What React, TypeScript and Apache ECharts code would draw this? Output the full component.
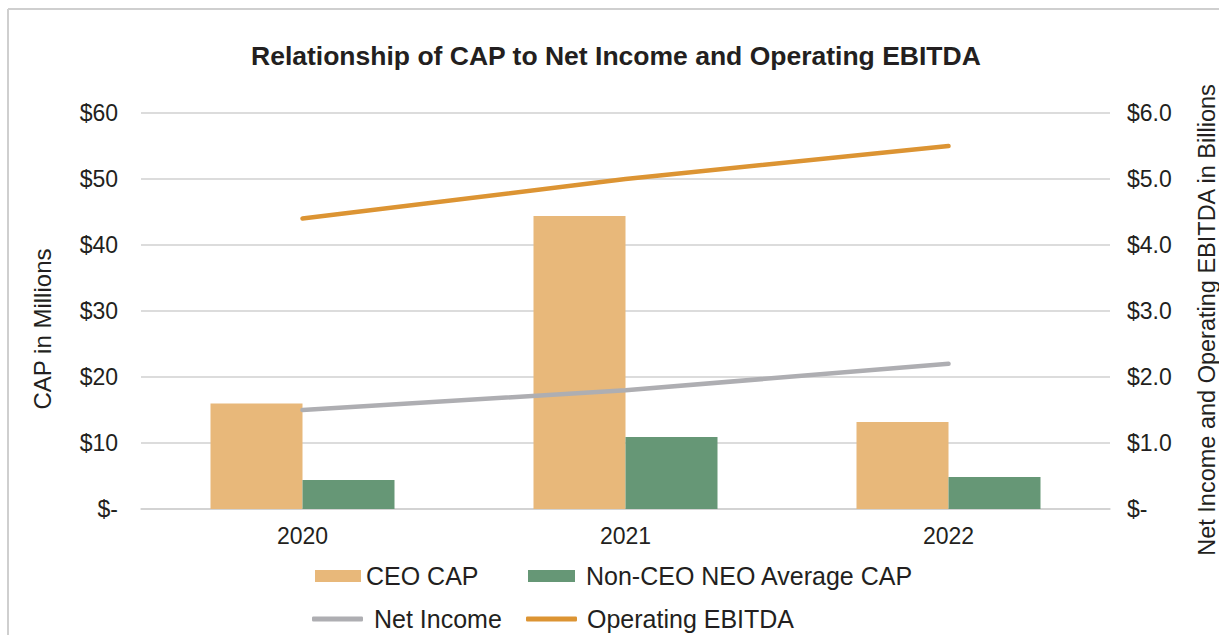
import React, { useEffect, useRef } from "react";
import * as echarts from "echarts";

const years = ["2020", "2021", "2022"];
const ceoCap = [16.0, 44.4, 13.2];
const nonCeoCap = [4.4, 10.9, 4.85];
const netIncome = [1.5, 1.8, 2.2];
const operatingEbitda = [4.4, 5.0, 5.5];

const FONT = "'Liberation Sans', Arial, Helvetica, sans-serif";
const TEXT = "#231f20";
const GRID = "#d0d0d0";
const C_CEO = "#e8b87a";
const C_NEO = "#669776";
const C_NI = "#aeaeb2";
const C_EB = "#dc9433";

export default function App() {
  const ref = useRef<HTMLDivElement>(null);
  useEffect(() => {
    if (!ref.current) return;
    const chart = echarts.init(ref.current, undefined, { renderer: "svg" });
    const legendText = { fontFamily: FONT, fontSize: 25, color: TEXT, lineHeight: 26 };
    chart.setOption({
      animation: false,
      backgroundColor: "#ffffff",
      title: {
        text: "Relationship of CAP to Net Income and Operating EBITDA",
        left: 251,
        top: 42,
        padding: 0,
        textStyle: { fontFamily: FONT, fontSize: 26.5, fontWeight: "bold", color: TEXT },
      },
      grid: { left: 141, right: 109, top: 113, bottom: 126, containLabel: false, outerBoundsMode: "none" },
      legend: [
        {
          data: [{ name: "CEO CAP", icon: "rect" }],
          left: 315, top: 563, padding: 0, itemWidth: 46, itemHeight: 12,
          textStyle: legendText, selectedMode: false,
        },
        {
          data: [{ name: "Non-CEO NEO Average CAP", icon: "rect" }],
          left: 528, top: 563, padding: 0, itemWidth: 47, itemHeight: 12,
          textStyle: { ...legendText, padding: [0, 0, 0, 6] }, selectedMode: false,
        },
        {
          data: [{ name: "Net Income", icon: "roundRect", itemStyle: { color: C_NI, borderWidth: 0 } }],
          left: 312, top: 606, padding: 0, itemWidth: 51, itemHeight: 5,
          textStyle: { ...legendText, padding: [0, 0, 0, 6] }, selectedMode: false,
        },
        {
          data: [{ name: "Operating EBITDA", icon: "roundRect", itemStyle: { color: C_EB, borderWidth: 0 } }],
          left: 526, top: 606, padding: 0, itemWidth: 51, itemHeight: 5,
          textStyle: { ...legendText, padding: [0, 0, 0, 5] }, selectedMode: false,
        },
      ],
      xAxis: {
        type: "category",
        data: years,
        axisLine: { show: true, lineStyle: { color: GRID, width: 1.5 } },
        axisTick: { show: false },
        axisLabel: { fontFamily: FONT, fontSize: 23, color: TEXT, margin: 15 },
      },
      yAxis: [
        {
          type: "value",
          min: 0,
          max: 60,
          interval: 10,
          name: "CAP in Millions",
          nameLocation: "middle",
          nameGap: 87,
          nameTextStyle: { fontFamily: FONT, fontSize: 24, color: TEXT, padding: [0, 36, 0, 0] },
          axisLine: { show: false },
          axisTick: { show: false },
          splitLine: { show: true, lineStyle: { color: GRID, width: 1.5 } },
          axisLabel: {
            fontFamily: FONT, fontSize: 23, color: TEXT, margin: 23,
            formatter: (v: number) => (v === 0 ? "$-" : "$" + v),
          },
        },
        {
          type: "value",
          min: 0,
          max: 6,
          interval: 1,
          position: "right",
          name: "Net Income and Operating EBITDA in Billions",
          nameLocation: "middle",
          nameGap: 85,
          nameRotate: 90,
          nameTextStyle: { fontFamily: FONT, fontSize: 23.5, color: TEXT, padding: [0, 18, 0, 0] },
          axisLine: { show: false },
          axisTick: { show: false },
          splitLine: { show: false },
          axisLabel: {
            fontFamily: FONT, fontSize: 23, color: TEXT, margin: 17,
            formatter: (v: number) => (v === 0 ? "$-" : "$" + v.toFixed(1)),
          },
        },
      ],
      series: [
        {
          name: "CEO CAP", type: "bar", data: ceoCap, yAxisIndex: 0,
          barWidth: 92, barGap: "0%",
          itemStyle: { color: C_CEO },
        },
        {
          name: "Non-CEO NEO Average CAP", type: "bar", data: nonCeoCap, yAxisIndex: 0,
          barWidth: 92, barGap: "0%",
          itemStyle: { color: C_NEO },
        },
        {
          name: "Net Income", type: "line", data: netIncome, yAxisIndex: 1,
          symbol: "none", showSymbol: false,
          lineStyle: { color: C_NI, width: 4.5, cap: "round" },
          itemStyle: { color: C_NI },
        },
        {
          name: "Operating EBITDA", type: "line", data: operatingEbitda, yAxisIndex: 1,
          symbol: "none", showSymbol: false,
          lineStyle: { color: C_EB, width: 4.5, cap: "round" },
          itemStyle: { color: C_EB },
        },
      ],
      graphic: [
        { type: "line", shape: { x1: 8, y1: 9, x2: 8, y2: 635 }, style: { stroke: "#cfcfcf", lineWidth: 2 }, silent: true },
        { type: "line", shape: { x1: 8, y1: 9, x2: 1219, y2: 9 }, style: { stroke: "#cfcfcf", lineWidth: 2 }, silent: true },
      ],
    });
    return () => chart.dispose();
  }, []);
  return (
    <div
      ref={ref}
      style={{ position: "fixed", left: 0, top: 0, width: 1219, height: 635, background: "#fff" }}
    />
  );
}
